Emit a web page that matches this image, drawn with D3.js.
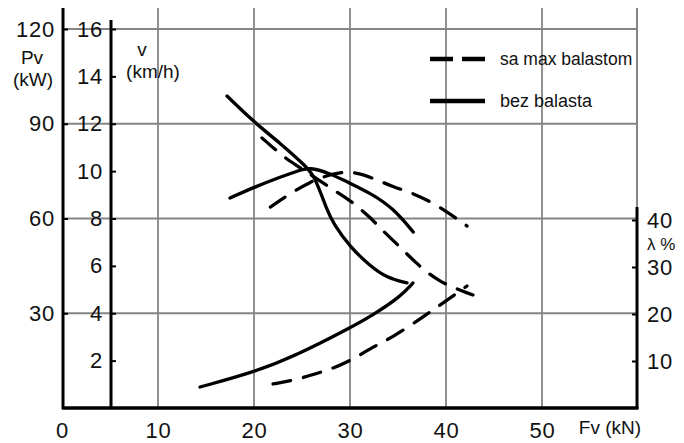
<!DOCTYPE html>
<html><head><meta charset="utf-8">
<script src="https://cdn.jsdelivr.net/npm/d3@7"></script>
<style>body{margin:0;background:#fff}svg{display:block}text{font-family:"Liberation Sans",Arial,sans-serif;fill:#111}</style>
</head><body><svg id="c" width="684" height="443"></svg>
<script>
// Tick labels
const fvTicks = [0,10,20,30,40,50];
const pvTicks = [30,60,90,120];
const vTicks = [2,4,6,8,10,12,14,16];
const lamTicks = [10,20,30,40];
// Legend
const legendLabels = ["sa max balastom","bez balasta"];
// Velocity v (km/h) vs Fv (kN)
const vSolidF = [17.19,20.10,22.71,25.52,26.35,27.60,28.23,30.0,32.08,33.85,35.94];
const vSolidV = [13.17,12.03,11.19,10.17,9.75,8.36,7.81,6.80,6.00,5.49,5.28];
const vDashF = [20.83,23.44,24.79,27.92,30.0,32.08,33.44,35.21,36.77,39.17,42.81];
const vDashV = [11.40,10.47,10.17,9.29,8.78,8.06,7.47,6.80,6.16,5.32,4.77];
// Power Pv (kW) vs Fv
const pSolidF = [17.5,20.1,22.7,24.5,25.8,27.9,29.7,32.1,34.5,36.6];
const pSolidP = [66.5,70.0,73.1,75.0,76.3,74.3,71.6,68.1,63.3,55.7];
const pDashF = [21.7,23.5,25.8,28.2,30.3,32.4,34.5,36.5,39.1,42.2];
const pDashP = [63.6,67.4,71.6,74.3,75.0,72.8,70.0,68.1,64.3,57.6];
// Slip lambda (%) vs Fv
const lSolidF = [14.38,20.1,24.48,29.79,32.4,35.21,36.56];
const lSolidL = [4.47,7.66,11.28,16.81,19.79,23.62,26.6];
const lDashF = [21.98,24.27,26.35,28.44,29.69,31.04,32.4,34.48,37.6,39.38,40.73,42.19];
const lDashL = [5.11,5.96,7.2,8.6,9.79,11.28,12.98,15.11,19.36,21.91,23.83,25.96];

const svg = d3.select("#c");
const x = d3.scaleLinear([0,60],[62,638]);
const yP = d3.scaleLinear([0,120],[408,29]);
const yV = d3.scaleLinear([0,16],[408,29]);
const yL = d3.scaleLinear([0,40],[408,220]);
const grid = "#858585";

// horizontal grid
svg.append("g").selectAll("line").data(pvTicks).join("line")
  .attr("x1",63).attr("x2",637).attr("y1",d=>yP(d)).attr("y2",d=>yP(d))
  .attr("stroke",grid).attr("stroke-width",1.8);
// vertical grid
svg.append("g").selectAll("line").data([10,20,30,40,50]).join("line")
  .attr("x1",d=>x(d)).attr("x2",d=>x(d)).attr("y1",8).attr("y2",408)
  .attr("stroke",grid).attr("stroke-width",1.8);
svg.append("line").attr("x1",637).attr("x2",637).attr("y1",8).attr("y2",207).attr("stroke",grid).attr("stroke-width",2);

// axes lines
svg.append("line").attr("x1",63).attr("x2",63).attr("y1",8).attr("y2",409).attr("stroke","#000").attr("stroke-width",3);
svg.append("line").attr("x1",111).attr("x2",111).attr("y1",20).attr("y2",409).attr("stroke","#000").attr("stroke-width",3);
svg.append("line").attr("x1",637).attr("x2",637).attr("y1",207).attr("y2",409).attr("stroke","#000").attr("stroke-width",3);
svg.append("line").attr("x1",62).attr("x2",638.5).attr("y1",408).attr("y2",408).attr("stroke","#000").attr("stroke-width",3.5);

function styleAxis(g, fs){
  g.select(".domain").remove();
  g.selectAll(".tick line").attr("stroke","#000").attr("stroke-width",2);
  g.selectAll(".tick text").attr("font-size",fs).attr("fill","#111").attr("font-family","Liberation Sans, Arial, sans-serif").attr("letter-spacing","0.8px");
}
svg.append("g").attr("transform","translate(63,0)")
  .call(d3.axisLeft(yP).tickValues(pvTicks).tickSizeInner(-5).tickSizeOuter(0).tickPadding(8))
  .call(g=>styleAxis(g,22));
svg.append("g").attr("transform","translate(111,0)")
  .call(d3.axisLeft(yV).tickValues(vTicks).tickSizeInner(-5).tickSizeOuter(0).tickPadding(8))
  .call(g=>styleAxis(g,22));
svg.append("g").attr("transform","translate(637,0)")
  .call(d3.axisRight(yL).tickValues(lamTicks).tickSizeInner(-5).tickSizeOuter(0).tickPadding(10))
  .call(g=>styleAxis(g,22));
svg.append("g").attr("transform","translate(0,408)")
  .call(d3.axisBottom(x).tickValues(fvTicks).tickSize(0).tickPadding(14))
  .call(g=>styleAxis(g,22));

// axis titles
function label(t,xx,yy,fs,anchor){
  svg.append("text").attr("x",xx).attr("y",yy).attr("dy","0.35em").attr("font-size",fs)
    .attr("text-anchor",anchor||"middle").text(t);
}
label("Pv",32,57,19);
label("(kW)",33,79,19);
label("v",142,49,19);
label("(km/h)",153,71,19);
label("Fv (kN)",610,427,19);
label("λ %",647,244,17,"start");

// curves
const line = (fy,xs,ys)=>d3.line().x((d,i)=>x(xs[i])).y((d,i)=>fy(ys[i])).curve(d3.curveBasis)(xs);
const curves = [
  [yV,vSolidF,vSolidV,false],[yV,vDashF,vDashV,true],
  [yP,pSolidF,pSolidP,false],[yP,pDashF,pDashP,true],
  [yL,lSolidF,lSolidL,false],[yL,lDashF,lDashL,true]
];
curves.forEach(([fy,xs,ys,dash])=>{
  svg.append("path").attr("d",line(fy,xs,ys)).attr("fill","none").attr("stroke","#000")
    .attr("stroke-width",3.3).attr("stroke-linecap","round")
    .attr("stroke-dasharray",dash?"18,13":null);
});

// legend
svg.append("line").attr("x1",430).attr("x2",485).attr("y1",59).attr("y2",59).attr("stroke","#000").attr("stroke-width",4.5).attr("stroke-dasharray","23,9");
svg.append("line").attr("x1",430).attr("x2",485).attr("y1",101).attr("y2",101).attr("stroke","#000").attr("stroke-width",4.5);
svg.append("text").attr("x",500).attr("y",59).attr("dy","0.35em").attr("font-size",17.5).text(legendLabels[0]);
svg.append("text").attr("x",500).attr("y",101).attr("dy","0.35em").attr("font-size",18).text(legendLabels[1]);
</script></body></html>
